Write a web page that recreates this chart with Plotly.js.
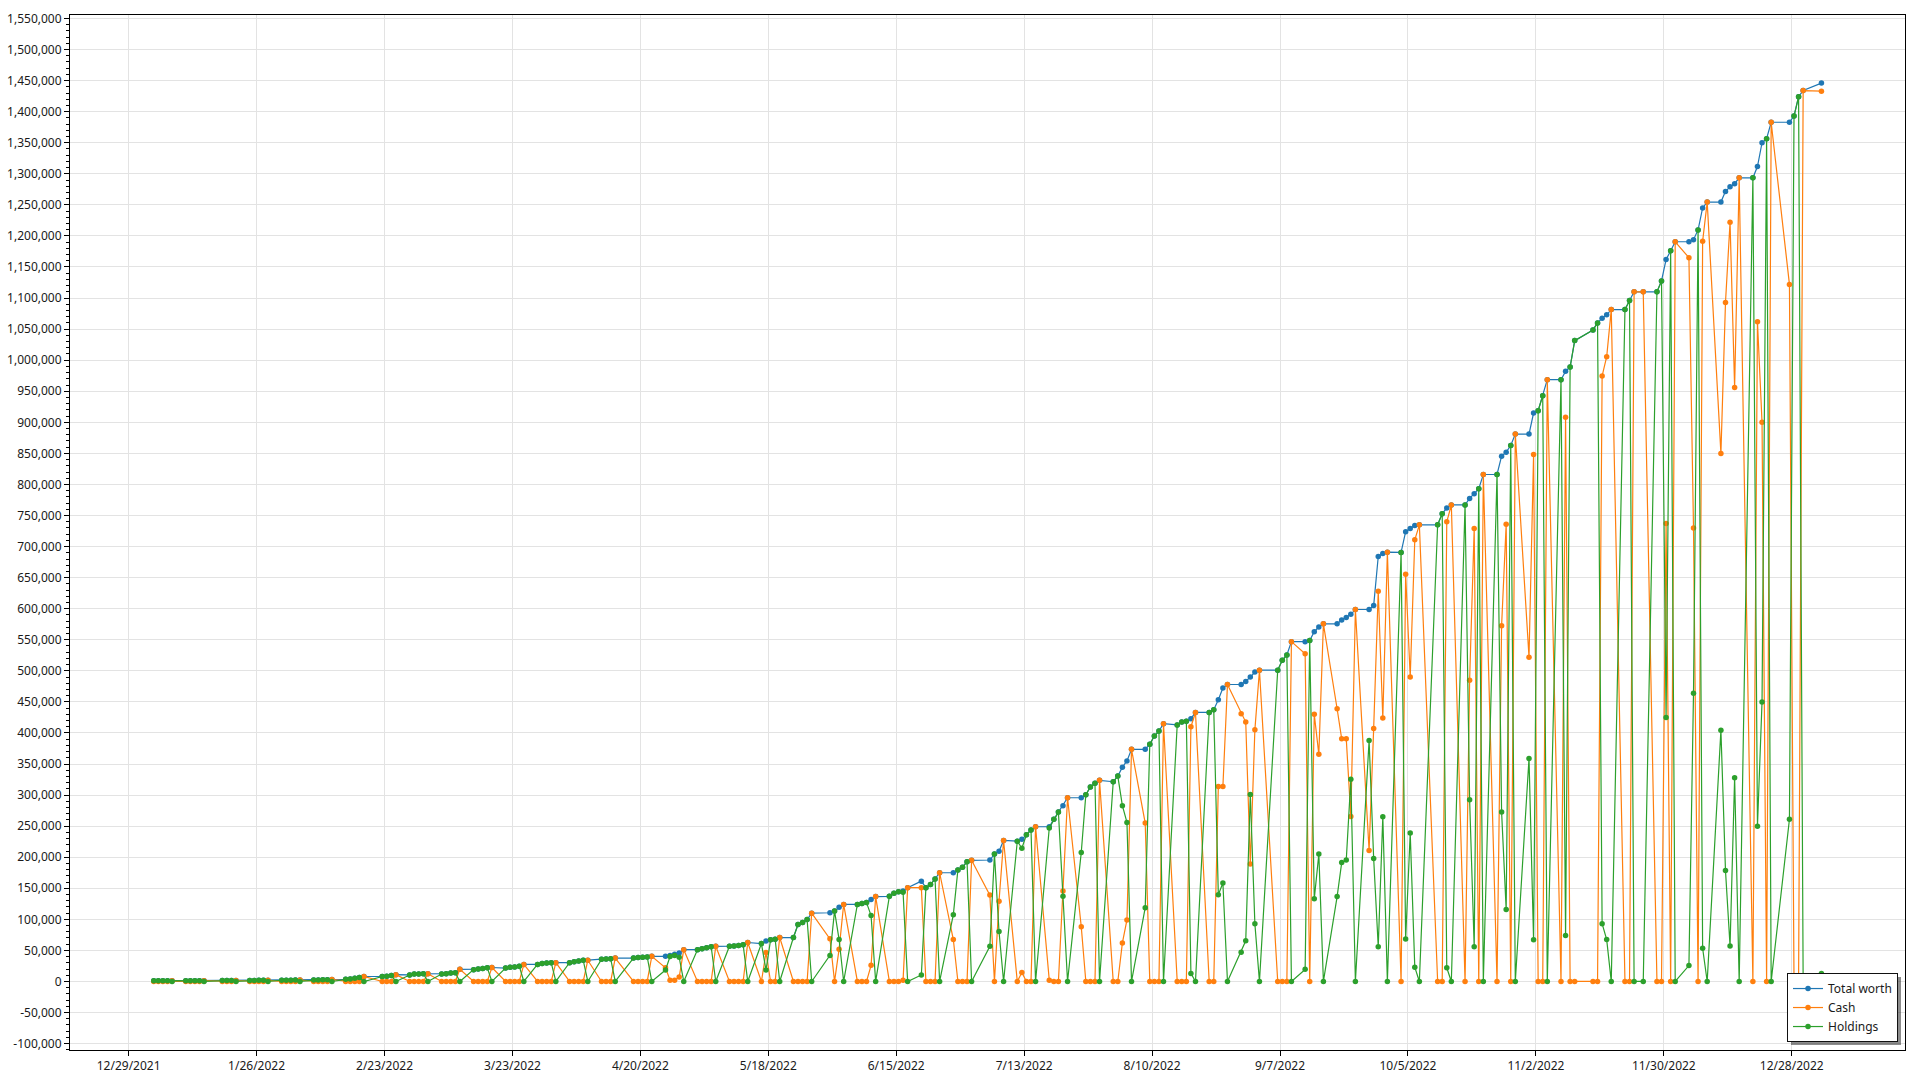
<!DOCTYPE html>
<html>
<head>
<meta charset="utf-8">
<script src="https://cdn.plot.ly/plotly-3.0.1.min.js"></script>
<style>
  html, body { margin: 0; padding: 0; background: #ffffff; }
  #chart { width: 1920px; height: 1080px; }
</style>
</head>
<body>
<div id="chart"></div>
<script>
// Trading days (one per data point)
const dates = [
  '2022-01-03','2022-01-04','2022-01-05','2022-01-06','2022-01-07',
  '2022-01-10','2022-01-11','2022-01-12','2022-01-13','2022-01-14',
  '2022-01-18','2022-01-19','2022-01-20','2022-01-21',
  '2022-01-24','2022-01-25','2022-01-26','2022-01-27','2022-01-28',
  '2022-01-31','2022-02-01','2022-02-02','2022-02-03','2022-02-04',
  '2022-02-07','2022-02-08','2022-02-09','2022-02-10','2022-02-11',
  '2022-02-14','2022-02-15','2022-02-16','2022-02-17','2022-02-18',
  '2022-02-22','2022-02-23','2022-02-24','2022-02-25',
  '2022-02-28','2022-03-01','2022-03-02','2022-03-03','2022-03-04',
  '2022-03-07','2022-03-08','2022-03-09','2022-03-10','2022-03-11',
  '2022-03-14','2022-03-15','2022-03-16','2022-03-17','2022-03-18',
  '2022-03-21','2022-03-22','2022-03-23','2022-03-24','2022-03-25',
  '2022-03-28','2022-03-29','2022-03-30','2022-03-31','2022-04-01',
  '2022-04-04','2022-04-05','2022-04-06','2022-04-07','2022-04-08',
  '2022-04-11','2022-04-12','2022-04-13','2022-04-14',
  '2022-04-18','2022-04-19','2022-04-20','2022-04-21','2022-04-22',
  '2022-04-25','2022-04-26','2022-04-27','2022-04-28','2022-04-29',
  '2022-05-02','2022-05-03','2022-05-04','2022-05-05','2022-05-06',
  '2022-05-09','2022-05-10','2022-05-11','2022-05-12','2022-05-13',
  '2022-05-16','2022-05-17','2022-05-18','2022-05-19','2022-05-20',
  '2022-05-23','2022-05-24','2022-05-25','2022-05-26','2022-05-27',
  '2022-05-31','2022-06-01','2022-06-02','2022-06-03',
  '2022-06-06','2022-06-07','2022-06-08','2022-06-09','2022-06-10',
  '2022-06-13','2022-06-14','2022-06-15','2022-06-16','2022-06-17',
  '2022-06-20','2022-06-21','2022-06-22','2022-06-23','2022-06-24',
  '2022-06-27','2022-06-28','2022-06-29','2022-06-30','2022-07-01',
  '2022-07-05','2022-07-06','2022-07-07','2022-07-08',
  '2022-07-11','2022-07-12','2022-07-13','2022-07-14','2022-07-15',
  '2022-07-18','2022-07-19','2022-07-20','2022-07-21','2022-07-22',
  '2022-07-25','2022-07-26','2022-07-27','2022-07-28','2022-07-29',
  '2022-08-01','2022-08-02','2022-08-03','2022-08-04','2022-08-05',
  '2022-08-08','2022-08-09','2022-08-10','2022-08-11','2022-08-12',
  '2022-08-15','2022-08-16','2022-08-17','2022-08-18','2022-08-19',
  '2022-08-22','2022-08-23','2022-08-24','2022-08-25','2022-08-26',
  '2022-08-29','2022-08-30','2022-08-31','2022-09-01','2022-09-02',
  '2022-09-06','2022-09-07','2022-09-08','2022-09-09',
  '2022-09-12','2022-09-13','2022-09-14','2022-09-15','2022-09-16',
  '2022-09-19','2022-09-20','2022-09-21','2022-09-22','2022-09-23',
  '2022-09-26','2022-09-27','2022-09-28','2022-09-29','2022-09-30',
  '2022-10-03','2022-10-04','2022-10-05','2022-10-06','2022-10-07',
  '2022-10-11','2022-10-12','2022-10-13','2022-10-14',
  '2022-10-17','2022-10-18','2022-10-19','2022-10-20','2022-10-21',
  '2022-10-24','2022-10-25','2022-10-26','2022-10-27','2022-10-28',
  '2022-10-31','2022-11-01','2022-11-02','2022-11-03','2022-11-04',
  '2022-11-07','2022-11-08','2022-11-09','2022-11-10',
  '2022-11-14','2022-11-15','2022-11-16','2022-11-17','2022-11-18',
  '2022-11-21','2022-11-22','2022-11-23','2022-11-25',
  '2022-11-28','2022-11-29','2022-11-30','2022-12-01','2022-12-02',
  '2022-12-05','2022-12-06','2022-12-07','2022-12-08','2022-12-09',
  '2022-12-12','2022-12-13','2022-12-14','2022-12-15','2022-12-16',
  '2022-12-19','2022-12-20','2022-12-21','2022-12-22','2022-12-23',
  '2022-12-27','2022-12-28','2022-12-29','2022-12-30',
  '2023-01-03'
];

const totalWorth = [
  1000,1050,1080,1100,1150,
  1150,1200,1250,1300,1350,
  1400,1450,1550,1600,
  1650,1700,1800,1850,1900,
  1950,2000,2100,2200,2300,
  2400,2500,2650,2800,3000,
  3500,4000,5000,6500,8000,
  8000,8500,9500,11000,
  10500,12000,12000,12500,12500,
  12000,12500,13500,14000,19500,
  19000,20000,21000,22000,22500,
  21500,22800,23400,24500,27500,
  27500,29000,29600,30000,30200,
  30200,31800,32900,34000,34200,
  35600,36000,36700,37700,
  37700,38500,39000,39500,40400,
  40400,42000,43700,45800,51200,
  51200,52800,54400,56000,56600,
  56800,57000,57900,59000,62700,
  61000,65000,67000,68000,70700,
  70700,91600,95000,99700,110000,
  110600,113600,119500,124000,
  124000,125500,127000,132000,136600,
  137000,142000,144500,145500,151000,
  161500,151000,156000,165000,175000,
  175000,179500,184000,192500,195000,
  195500,205000,209500,227000,
  225800,229000,236000,244000,249000,
  249000,261000,272600,282700,295700,
  295700,300500,313000,319000,323700,
  321500,330600,345000,355000,373700,
  373700,382000,395000,403000,415000,
  413000,417500,419000,423000,433000,
  433000,437500,453500,472500,478000,
  478000,483000,490000,498000,501000,
  501000,517000,525600,547000,
  547000,548700,563000,570600,575600,
  575600,582000,586000,591000,598700,
  598700,605000,684000,689000,691000,
  690600,724000,729000,734000,735000,
  735000,753000,762000,767000,
  767000,777500,785000,793000,816000,
  816000,845500,852000,862700,881000,
  881000,915000,918700,942800,968600,
  968600,982000,989000,1031500,
  1048700,1060000,1067600,1073000,1081400,
  1081400,1096000,1110000,1110000,
  1110000,1127600,1162000,1176000,1190600,
  1190600,1194000,1209700,1245000,1254500,
  1254500,1271700,1279000,1284000,1293600,
  1293600,1311700,1350000,1356600,1383000,
  1383000,1393000,1424000,1434000,
  1446000
];

const cash = [
  0,0,0,0,1150,
  0,0,0,0,1350,
  0,0,0,1600,
  0,0,0,0,1900,
  0,0,0,0,2300,
  0,0,0,0,3000,
  0,0,0,0,8000,
  0,0,0,11000,
  0,0,0,0,12500,
  0,0,0,0,19500,
  0,0,0,0,22500,
  0,0,0,0,27500,
  0,0,0,0,30200,
  0,0,0,0,34200,
  0,0,0,37700,
  0,0,0,0,40400,
  22000,2000,2000,7000,51200,
  0,0,0,0,56600,
  0,0,0,0,62700,
  0,46600,0,0,70700,
  0,0,0,0,110000,
  68600,0,52000,124000,
  0,0,0,26000,136600,
  0,0,0,2000,151000,
  151000,0,0,0,175000,
  67500,0,0,0,195000,
  139000,0,129000,227000,
  0,14500,0,0,249000,
  2000,0,0,145700,295700,
  88000,0,0,0,323700,
  0,0,62000,99000,373700,
  255000,0,0,0,415000,
  0,0,0,410000,433000,
  0,0,314000,314000,478000,
  431000,417500,189000,405000,501000,
  0,0,0,547000,
  527500,0,430000,365600,575600,
  439000,390600,390600,265600,598700,
  211000,407000,628000,424000,691000,
  0,655600,490000,711000,735000,
  0,0,740000,767000,
  0,485000,729000,0,816000,
  0,572600,736000,0,881000,
  522000,848000,0,0,968600,
  0,908000,0,0,
  0,0,974600,1005600,1081400,
  0,0,1110000,1110000,
  0,0,737000,0,1190600,
  1165000,730000,0,1191500,1254500,
  850000,1093000,1222000,956000,1293600,
  0,1062000,900000,0,1383000,
  1122000,0,0,1434000,
  1433000
];

const holdings = [
  1000,1050,1080,1100,0,
  1150,1200,1250,1300,0,
  1400,1450,1550,0,
  1650,1700,1800,1850,0,
  1950,2000,2100,2200,0,
  2400,2500,2650,2800,0,
  3500,4000,5000,6500,0,
  8000,8500,9500,0,
  10500,12000,12000,12500,0,
  12000,12500,13500,14000,0,
  19000,20000,21000,22000,0,
  21500,22800,23400,24500,0,
  27500,29000,29600,30000,0,
  30200,31800,32900,34000,0,
  35600,36000,36700,0,
  37700,38500,39000,39500,0,
  18400,40000,41700,38800,0,
  51200,52800,54400,56000,0,
  56800,57000,57900,59000,0,
  61000,18400,67000,68000,0,
  70700,91600,95000,99700,0,
  42000,113600,67500,0,
  124000,125500,127000,106000,0,
  137000,142000,144500,143500,0,
  10500,151000,156000,165000,0,
  107500,179500,184000,192500,0,
  56500,205000,80500,0,
  225800,214500,236000,244000,0,
  247000,261000,272600,137000,0,
  207700,300500,313000,319000,0,
  321500,330600,283000,256000,0,
  118700,382000,395000,403000,0,
  413000,417500,419000,13000,0,
  433000,437500,139500,158500,0,
  47000,65500,301000,93000,0,
  501000,517000,525600,0,
  19500,548700,133000,205000,0,
  136600,191400,195400,325400,0,
  387700,198000,56000,265000,0,
  690600,68400,239000,23000,0,
  735000,753000,22000,0,
  767000,292500,56000,793000,0,
  816000,272900,116000,862700,0,
  359000,67000,918700,942800,0,
  968600,74000,989000,1031500,
  1048700,1060000,93000,67400,0,
  1081400,1096000,0,0,
  1110000,1127600,425000,1176000,0,
  25600,464000,1209700,53500,0,
  404500,178700,57000,328000,0,
  1293600,249700,450000,1356600,0,
  261000,1393000,1424000,0,
  13000
];

const seriesNames = ['Total worth', 'Cash', 'Holdings'];
const seriesColors = ['#1f77b4', '#ff7f0e', '#2ca02c'];
const yTickVals = [-100000,-50000,0,50000,100000,150000,200000,250000,300000,350000,400000,
  450000,500000,550000,600000,650000,700000,750000,800000,850000,900000,950000,1000000,
  1050000,1100000,1150000,1200000,1250000,1300000,1350000,1400000,1450000,1500000,1550000];
const yTickText = yTickVals.map(v => (v < 0 ? '-' : '') + Math.abs(v).toLocaleString('en-US'));

// data points are stamped at midday
const xs = dates.map(d => d + ' 12:00');

const seriesValues = [totalWorth, cash, holdings];
const traces = seriesValues.map((vals, i) => ({
  type: 'scatter',
  mode: 'lines+markers',
  name: seriesNames[i],
  legendgroup: 'g' + i,
  x: xs,
  y: vals,
  line: { color: seriesColors[i], width: 1.2 },
  marker: { color: seriesColors[i], size: 5.5, symbol: 'circle' },
  hoverinfo: 'skip'
}));

const fontFamily = '"Segoe UI", "Noto Sans", "Open Sans", sans-serif';

const layout = {
  width: 1920,
  height: 1080,
  paper_bgcolor: '#ffffff',
  plot_bgcolor: '#ffffff',
  margin: { l: 70, r: 15, t: 15, b: 30, pad: 0 },
  font: { family: fontFamily, size: 12, color: '#1a1a1a' },
  showlegend: true,
  legend: {
    x: 0.9962, xanchor: 'right',
    y: 0.0077, yanchor: 'bottom',
    bgcolor: '#ffffff',
    bordercolor: '#111111',
    borderwidth: 1,
    font: { family: fontFamily, size: 12, color: '#1a1a1a' },
    tracegroupgap: 0,
    itemwidth: 30
  },
  xaxis: {
    type: 'date',
    range: ['2021-12-16 04:00', '2023-01-21 19:00'],
    tick0: '2021-12-29',
    dtick: 28 * 86400000,
    tickformat: '%-m/%-d/%Y',
    ticks: 'outside',
    ticklen: 5,
    tickcolor: '#000000',
    showgrid: true,
    gridcolor: '#e3e3e3',
    gridwidth: 1,
    showline: true,
    linecolor: '#000000',
    linewidth: 1,
    mirror: true,
    zeroline: false,
    tickfont: { family: fontFamily, size: 12, color: '#1a1a1a' }
  },
  yaxis: {
    range: [-110300, 1555600],
    tickmode: 'array',
    tickvals: yTickVals,
    ticktext: yTickText,
    ticks: 'outside',
    ticklen: 5,
    tickcolor: '#000000',
    minor: {
      tickmode: 'linear', tick0: 0, dtick: 10000,
      ticks: 'outside', ticklen: 3, tickcolor: '#000000', showgrid: false
    },
    showgrid: true,
    gridcolor: '#e3e3e3',
    gridwidth: 1,
    showline: true,
    linecolor: '#000000',
    linewidth: 1,
    mirror: true,
    zeroline: false,
    tickfont: { family: fontFamily, size: 12, color: '#1a1a1a' }
  }
};

Plotly.newPlot('chart', traces, layout, { displayModeBar: false, staticPlot: true }).then(gd => {
  const bg = gd.querySelector('.legend .bg');
  if (bg) {
    const sh = bg.cloneNode(true);
    sh.setAttribute('class', 'legend-shadow');
    sh.style.fill = 'rgba(0,0,0,0.45)';
    sh.style.stroke = 'none';
    sh.setAttribute('transform', 'translate(3,3)');
    bg.parentNode.insertBefore(sh, bg);
  }
});
</script>
</body>
</html>
